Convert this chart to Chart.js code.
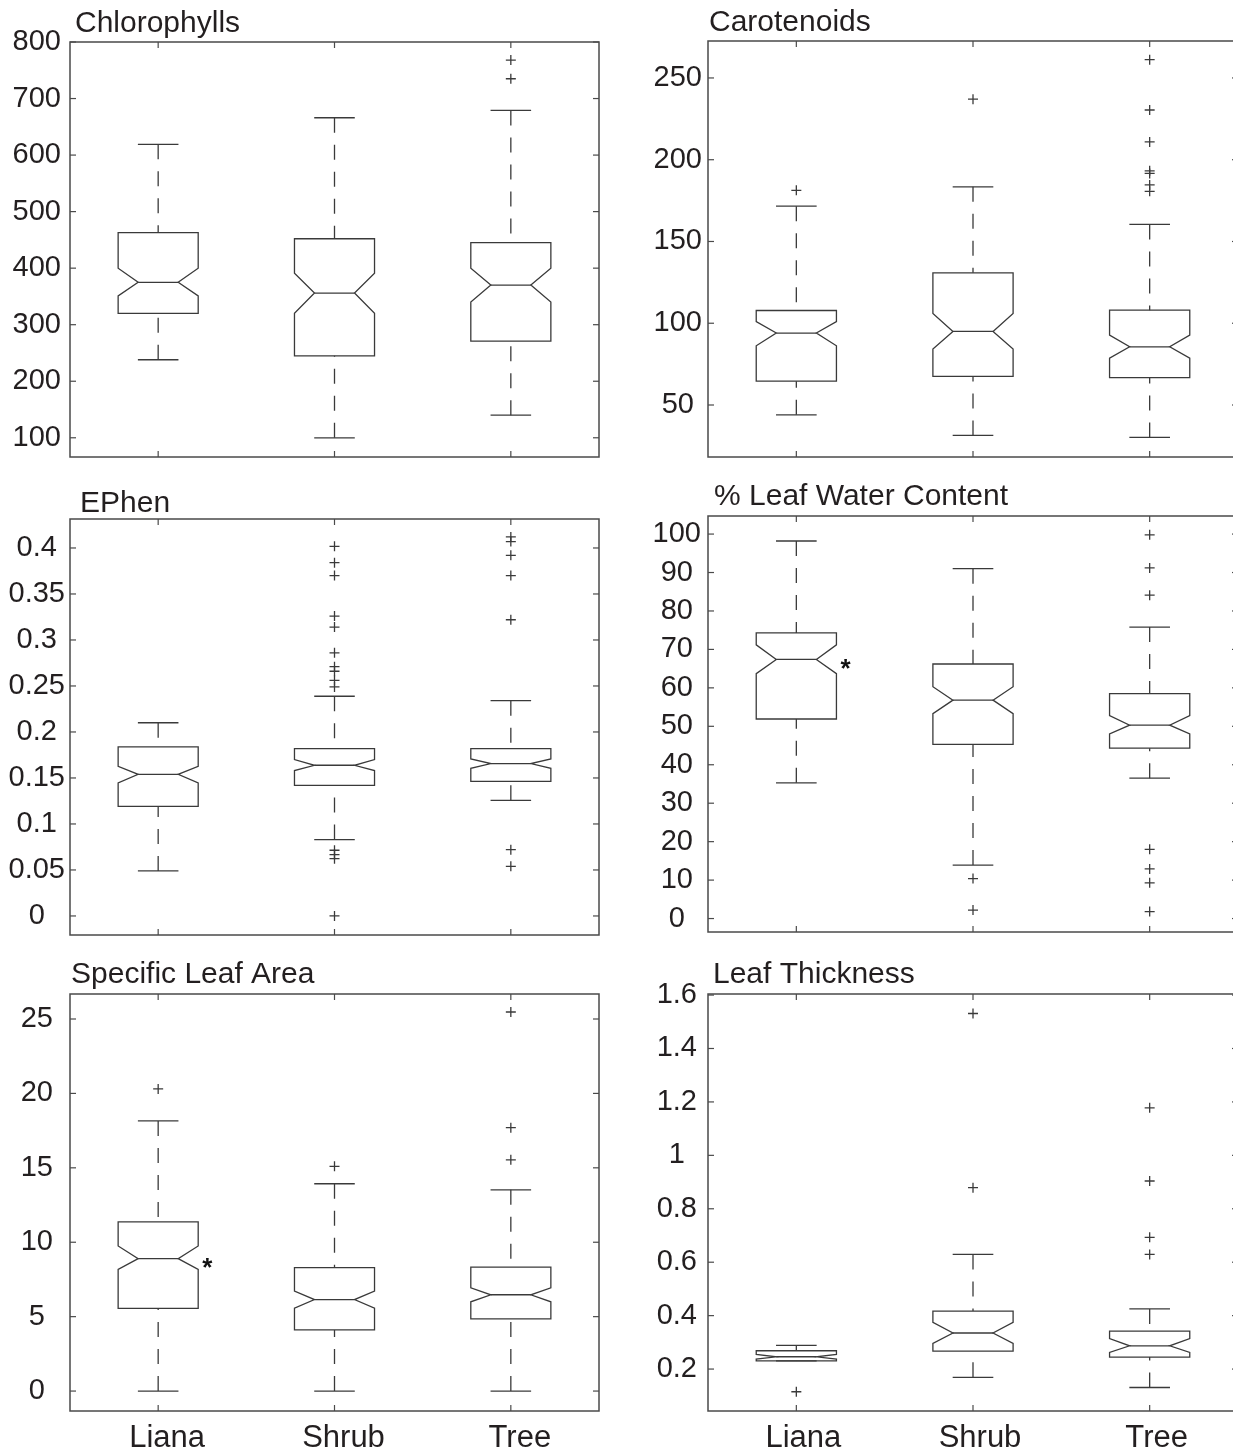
<!DOCTYPE html>
<html>
<head>
<meta charset="utf-8">
<script src="https://cdn.jsdelivr.net/npm/chart.js@4.4.1/dist/chart.umd.min.js"></script>
<style>
  html, body { margin: 0; padding: 0; background: #fff; }
  #page { position: relative; width: 1233px; height: 1454px; overflow: hidden; }
  #page canvas { position: absolute; }
</style>
</head>
<body>
<div id="page">
  <canvas id="chl"></canvas>
  <canvas id="car"></canvas>
  <canvas id="eph"></canvas>
  <canvas id="lwc"></canvas>
  <canvas id="sla"></canvas>
  <canvas id="lt"></canvas>
</div>
<script>
const groups = ['Liana', 'Shrub', 'Tree'];

// Chlorophylls
const chlLow     = [238, 100, 140];
const chlQ1      = [320, 245, 271];
const chlNotchLo = [351, 320, 340];
const chlMedian  = [375, 356, 370];
const chlNotchHi = [400, 391, 400];
const chlQ3      = [463, 452, 445];
const chlHigh    = [619, 666, 679];
const chlOut     = [[], [], [768, 735]];
const chlTicks   = [100, 200, 300, 400, 500, 600, 700, 800];

// Carotenoids
const carLow     = [44, 31.4, 30.2];
const carQ1      = [64.6, 67.5, 66.7];
const carNotchLo = [86.2, 84.2, 78.7];
const carMedian  = [94, 95, 85.6];
const carNotchHi = [101, 106, 92.7];
const carQ3      = [107.8, 130.8, 108];
const carHigh    = [171.6, 183.4, 160.4];
const carOut     = [[181.3], [237], [261.2, 230.4, 210.9, 193.2, 191.6, 184.6, 180.7]];
const carTicks   = [50, 100, 150, 200, 250];

// EPhen
const ephLow     = [0.0489, 0.083, 0.1257];
const ephQ1      = [0.1192, 0.142, 0.1464];
const ephNotchLo = [0.1446, 0.158, 0.1605];
const ephMedian  = [0.154, 0.1638, 0.1656];
const ephNotchHi = [0.1627, 0.170, 0.1707];
const ephQ3      = [0.1837, 0.1819, 0.182];
const ephHigh    = [0.210, 0.2388, 0.234];
const ephOut     = [[],
  [0.4018, 0.384, 0.370, 0.326, 0.314, 0.286, 0.271, 0.266, 0.256, 0.249, 0.0714, 0.0667, 0.0623, 0],
  [0.412, 0.407, 0.392, 0.370, 0.322, 0.072, 0.054]];
const ephTicks   = [0, 0.05, 0.1, 0.15, 0.2, 0.25, 0.3, 0.35, 0.4];

// % Leaf Water Content
const lwcLow     = [35.3, 13.9, 36.5];
const lwcQ1      = [51.9, 45.3, 44.3];
const lwcNotchLo = [63.7, 53.3, 48.0];
const lwcMedian  = [67.4, 56.8, 50.3];
const lwcNotchHi = [71.2, 60.3, 52.8];
const lwcQ3      = [74.3, 66.2, 58.5];
const lwcHigh    = [98.2, 91, 75.8];
const lwcOut     = [[], [10.4, 2.2], [99.8, 91.2, 84.1, 18.0, 12.9, 9.3, 1.8]];
const lwcStar    = [true, false, false];
const lwcTicks   = [0, 10, 20, 30, 40, 50, 60, 70, 80, 90, 100];

// Specific Leaf Area
const slaLow     = [0, 0, 0];
const slaQ1      = [5.55, 4.11, 4.85];
const slaNotchLo = [8.18, 5.57, 6.0];
const slaMedian  = [8.9, 6.15, 6.47];
const slaNotchHi = [9.75, 6.72, 6.94];
const slaQ3      = [11.37, 8.29, 8.33];
const slaHigh    = [18.15, 13.93, 13.52];
const slaOut     = [[20.3], [15.1], [25.47, 17.7, 15.54]];
const slaStar    = [true, false, false];
const slaTicks   = [0, 5, 10, 15, 20, 25];

// Leaf Thickness
const ltLow      = [0.231, 0.169, 0.131];
const ltQ1       = [0.231, 0.267, 0.245];
const ltNotchLo  = [0.237, 0.296, 0.262];
const ltMedian   = [0.246, 0.335, 0.287];
const ltNotchHi  = [0.255, 0.375, 0.314];
const ltQ3       = [0.2686, 0.417, 0.342];
const ltHigh     = [0.2886, 0.629, 0.425];
const ltOut      = [[0.115], [1.531, 0.879], [1.178, 0.904, 0.693, 0.629]];
const ltTicks    = [0.2, 0.4, 0.6, 0.8, 1, 1.2, 1.4, 1.6];

const INK = '#3a3a3a';
const FRAME = '#4a4a4a';
const TEXT = '#231f20';
const FONT = "'Liberation Sans', Arial, Helvetica, sans-serif";
const BOX_HALF = 0.227;
const CAP_HALF = 0.115;

// canvases are taller than their plot so the y labels never squeeze the plot area
const panels = [
  { id: 'chl', title: 'Chlorophylls', low: chlLow, q1: chlQ1, nlo: chlNotchLo, med: chlMedian, nhi: chlNotchHi,
    q3: chlQ3, high: chlHigh, out: chlOut, ticks: chlTicks, min: 66, max: 800,
    left: 0, top: 0, h: 500, axisW: 70, padTop: 42, padRight: 21, xH: 43, tickPad: 9, labels: false, labelShift: 8, titleDx: 5, titleGap: 10 },
  { id: 'car', title: 'Carotenoids', low: carLow, q1: carQ1, nlo: carNotchLo, med: carMedian, nhi: carNotchHi,
    q3: carQ3, high: carHigh, out: carOut, ticks: carTicks, min: 18.2, max: 272.6,
    left: 640, top: 0, h: 500, axisW: 68, padTop: 41, padRight: 22, xH: 43, tickPad: 6, labels: false, labelShift: 6, titleDx: 1, titleGap: 10 },
  { id: 'eph', title: 'EPhen', low: ephLow, q1: ephQ1, nlo: ephNotchLo, med: ephMedian, nhi: ephNotchHi,
    q3: ephQ3, high: ephHigh, out: ephOut, ticks: ephTicks, min: -0.0207, max: 0.4315,
    left: 0, top: 470, h: 510, axisW: 70, padTop: 49, padRight: 21, xH: 45, tickPad: 5, labels: false, labelShift: 8, titleDx: 10, titleGap: 7 },
  { id: 'lwc', title: '% Leaf Water Content', low: lwcLow, q1: lwcQ1, nlo: lwcNotchLo, med: lwcMedian, nhi: lwcNotchHi,
    q3: lwcQ3, high: lwcHigh, out: lwcOut, star: lwcStar, ticks: lwcTicks, min: -3.5, max: 104.7,
    left: 640, top: 470, h: 510, axisW: 68, padTop: 46, padRight: 22, xH: 48, tickPad: 7, labels: false, labelShift: 6, titleDx: 6, titleGap: 11 },
  { id: 'sla', title: 'Specific Leaf Area', low: slaLow, q1: slaQ1, nlo: slaNotchLo, med: slaMedian, nhi: slaNotchHi,
    q3: slaQ3, high: slaHigh, out: slaOut, star: slaStar, ticks: slaTicks, min: -1.34, max: 26.68,
    left: 0, top: 950, h: 504, axisW: 70, padTop: 44, padRight: 21, xH: 43, tickPad: 17, labels: true, labelShift: 9, titleDx: 1, titleGap: 11 },
  { id: 'lt', title: 'Leaf Thickness', low: ltLow, q1: ltQ1, nlo: ltNotchLo, med: ltMedian, nhi: ltNotchHi,
    q3: ltQ3, high: ltHigh, out: ltOut, ticks: ltTicks, min: 0.043, max: 1.604,
    left: 640, top: 950, h: 504, axisW: 68, padTop: 44, padRight: 22, xH: 43, tickPad: 11, labels: true, labelShift: 7, titleDx: 5, titleGap: 11 }
];

function seg(ctx, x1, y1, x2, y2) {
  ctx.beginPath();
  ctx.moveTo(x1, y1);
  ctx.lineTo(x2, y2);
  ctx.stroke();
}

function boxPlugin(p) {
  return {
    id: 'box_' + p.id,
    beforeDatasetsDraw(chart) {
      const { ctx, scales: { x, y } } = chart;
      ctx.save();
      ctx.strokeStyle = INK;
      ctx.lineWidth = 1.3;
      groups.forEach((g, i) => {
        const c = i + 1;
        const M = x.getPixelForValue(c);
        const L = x.getPixelForValue(c - BOX_HALF), R = x.getPixelForValue(c + BOX_HALF);
        const Li = x.getPixelForValue(c - BOX_HALF / 2), Ri = x.getPixelForValue(c + BOX_HALF / 2);
        const cL = x.getPixelForValue(c - CAP_HALF), cR = x.getPixelForValue(c + CAP_HALF);
        const yLow = y.getPixelForValue(p.low[i]), yHigh = y.getPixelForValue(p.high[i]);
        const yQ1 = y.getPixelForValue(p.q1[i]), yQ3 = y.getPixelForValue(p.q3[i]);
        const yNlo = y.getPixelForValue(p.nlo[i]), yNhi = y.getPixelForValue(p.nhi[i]);
        const yMed = y.getPixelForValue(p.med[i]);

        // whiskers
        ctx.setLineDash([15, 12]);
        seg(ctx, M, yHigh, M, yQ3);
        seg(ctx, M, yLow, M, yQ1);
        ctx.setLineDash([]);
        seg(ctx, cL, yHigh, cR, yHigh);
        seg(ctx, cL, yLow, cR, yLow);

        // notched box
        ctx.beginPath();
        ctx.moveTo(L, yQ1);
        ctx.lineTo(R, yQ1);
        ctx.lineTo(R, yNlo);
        ctx.lineTo(Ri, yMed);
        ctx.lineTo(R, yNhi);
        ctx.lineTo(R, yQ3);
        ctx.lineTo(L, yQ3);
        ctx.lineTo(L, yNhi);
        ctx.lineTo(Li, yMed);
        ctx.lineTo(L, yNlo);
        ctx.closePath();
        ctx.stroke();
        seg(ctx, Li, yMed, Ri, yMed);

        if (p.star && p.star[i]) {
          ctx.fillStyle = '#111';
          ctx.font = 'bold 26px ' + FONT;
          ctx.textAlign = 'center';
          ctx.textBaseline = 'middle';
          ctx.fillText('*', R + 9, yMed + 10);
        }
      });
      ctx.restore();
    },
    afterDraw(chart) {
      const { ctx, chartArea: a, scales: { x, y } } = chart;
      ctx.save();
      ctx.strokeStyle = FRAME;
      ctx.lineWidth = 1.5;
      ctx.strokeRect(a.left, a.top, a.right - a.left, a.bottom - a.top);
      ctx.lineWidth = 1.2;
      y.ticks.forEach(t => {
        const py = y.getPixelForValue(t.value);
        seg(ctx, a.left, py, a.left + 6, py);
        seg(ctx, a.right - 6, py, a.right, py);
      });
      x.ticks.forEach(t => {
        const px = x.getPixelForValue(t.value);
        seg(ctx, px, a.bottom, px, a.bottom - 6);
        seg(ctx, px, a.top, px, a.top + 6);
      });
      ctx.fillStyle = TEXT;
      ctx.font = '30px ' + FONT;
      ctx.textAlign = 'left';
      ctx.textBaseline = 'alphabetic';
      ctx.fillText(p.title, a.left + p.titleDx, a.top - p.titleGap);
      ctx.restore();
    }
  };
}

panels.forEach(p => {
  const canvas = document.getElementById(p.id);
  canvas.width = 620;
  canvas.height = p.h;
  canvas.style.left = p.left + 'px';
  canvas.style.top = p.top + 'px';

  const points = p.out.flatMap((vals, i) => vals.map(v => ({ x: i + 1, y: v })));

  new Chart(canvas, {
    type: 'scatter',
    data: {
      datasets: [{
        data: points,
        pointStyle: 'cross',
        radius: 5,
        borderColor: INK,
        backgroundColor: INK,
        borderWidth: 1.3
      }]
    },
    options: {
      responsive: false,
      animation: false,
      events: [],
      layout: { padding: { top: p.padTop, right: p.padRight, left: 0, bottom: 0 } },
      plugins: {
        legend: { display: false },
        tooltip: { enabled: false },
        title: { display: false }
      },
      scales: {
        x: {
          type: 'linear',
          min: 0.5,
          max: 3.5,
          bounds: 'data',
          afterBuildTicks: s => { s.ticks = groups.map((g, i) => ({ value: i + 1 })); },
          afterFit: s => { s.height = p.xH; },
          ticks: {
            display: p.labels,
            autoSkip: false,
            maxRotation: 0,
            padding: 9,
            labelOffset: p.labelShift,
            color: TEXT,
            font: { family: FONT, size: 31 },
            callback: (v, i) => groups[i]
          },
          grid: { display: false, drawTicks: false },
          border: { display: false }
        },
        y: {
          type: 'linear',
          min: p.min,
          max: p.max,
          bounds: 'data',
          afterBuildTicks: s => { s.ticks = p.ticks.map(v => ({ value: v })); },
          afterFit: s => { s.width = p.axisW; },
          ticks: {
            crossAlign: 'center',
            padding: p.tickPad,
            color: TEXT,
            font: { family: FONT, size: 29 },
            callback: v => String(v)
          },
          grid: { display: false, drawTicks: false },
          border: { display: false }
        }
      }
    },
    plugins: [boxPlugin(p)]
  });
});
</script>
</body>
</html>
